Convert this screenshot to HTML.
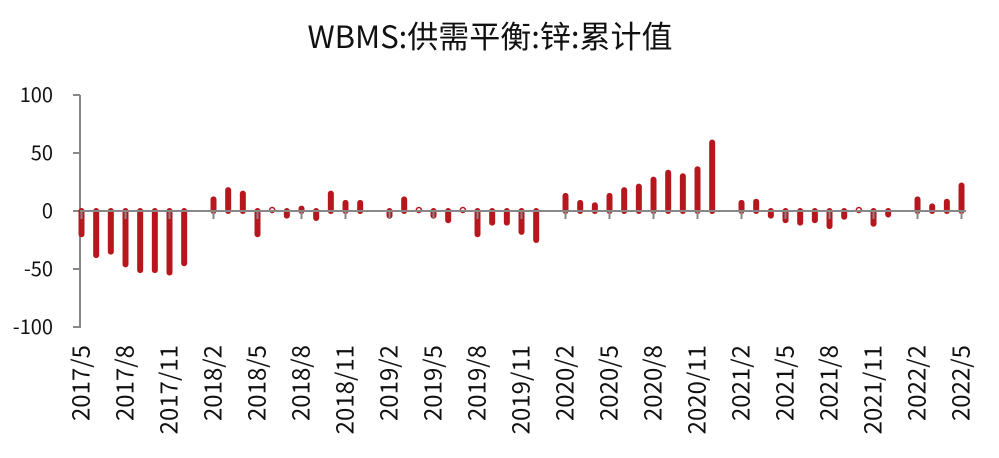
<!DOCTYPE html>
<html><head><meta charset="utf-8"><style>
body{margin:0;background:#fff;}
svg text{font-family:"Noto Sans CJK SC","Liberation Sans",sans-serif;fill:#111;}
</style></head><body>
<svg width="999" height="453" viewBox="0 0 999 453" xmlns="http://www.w3.org/2000/svg">
<text x="490" y="48" font-size="31" text-anchor="middle">WBMS:供需平衡:锌:累计值</text>
<g font-size="20" text-anchor="end">
<text x="53" y="102">100</text>
<text x="53" y="160">50</text>
<text x="53" y="218">0</text>
<text x="53" y="276">-50</text>
<text x="53" y="334">-100</text>
</g>
<g stroke="#888" stroke-width="2">
<line x1="80" y1="95" x2="80" y2="328"/>
<line x1="73" y1="95" x2="80" y2="95"/>
<line x1="73" y1="153" x2="80" y2="153"/>
<line x1="73" y1="211" x2="80" y2="211"/>
<line x1="73" y1="269" x2="80" y2="269"/>
<line x1="73" y1="327" x2="80" y2="327"/>
</g>
<g id="bars"></g>
<line x1="80" y1="211" x2="966" y2="211" stroke="#888" stroke-width="2"/>
<g id="ticks"></g>
<g id="labels" font-size="24" text-anchor="end"></g>
<script>
var v=[-20,-38,-35,-46,-51,-51,-53,-45,null,10,18,15,-20,1,-4,2,-6,15,7,7,null,-4,10,0,-4,-8,0,-20,-10,-10,-18,-25,null,13,7,5,13,18,21,27,33,30,36,59,null,7,8,-4,-8,-10,-8,-13,-5,0,-11,-3,null,10,4,8,22];
var names=[];
for(var i=0;i<61;i++){var m=5+i;var y=2017+Math.floor((m-1)/12);var mm=((m-1)%12)+1;names.push(y+"/"+mm);}
var ns="http://www.w3.org/2000/svg",B=document.getElementById("bars"),T=document.getElementById("ticks"),L=document.getElementById("labels");
for(var i=0;i<61;i++){
 var x=81.5+14.667*i;
 if(v[i]!==null){
  if(Math.abs(v[i])<1.5){var c=document.createElementNS(ns,"circle");c.setAttribute("cx",x);c.setAttribute("cy",210);c.setAttribute("r",2.5);c.setAttribute("fill","#fff");c.setAttribute("stroke","#b5171d");c.setAttribute("stroke-width","1.5");B.appendChild(c);}
  else{var l=document.createElementNS(ns,"line");var ye=211-v[i]*1.16;l.setAttribute("x1",x);l.setAttribute("x2",x);l.setAttribute("y1",211);l.setAttribute("y2",ye);l.setAttribute("stroke","#b5171d");l.setAttribute("stroke-width","6");l.setAttribute("stroke-linecap","round");B.appendChild(l);}
 }
 if(i%3==0){
  var t=document.createElementNS(ns,"line");t.setAttribute("x1",x);t.setAttribute("x2",x);t.setAttribute("y1",211);t.setAttribute("y2",219);t.setAttribute("stroke","#888");t.setAttribute("stroke-width","2");T.appendChild(t);
  var tx=document.createElementNS(ns,"text");tx.setAttribute("transform","translate("+(x+8)+",345) rotate(-90)");tx.textContent=names[i];L.appendChild(tx);
 }
}
</script>
</svg>
</body></html>
